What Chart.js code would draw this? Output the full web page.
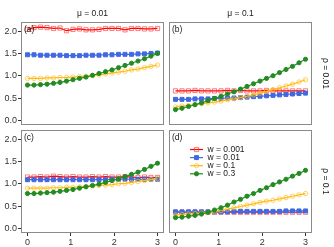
<!DOCTYPE html>
<html><head><meta charset="utf-8">
<script src="https://cdn.jsdelivr.net/npm/chart.js@4"></script>
<style>
html,body{margin:0;padding:0;background:#fff;}
#wrap{position:relative;width:334px;height:247px;overflow:hidden;background:#fff;}
canvas{position:absolute;left:0;top:0;}
</style>
</head><body>
<div id="wrap">
<canvas id="pa" width="334" height="247"></canvas>
<canvas id="pb" width="334" height="247"></canvas>
<canvas id="pc" width="334" height="247"></canvas>
<canvas id="pd" width="334" height="247"></canvas>
</div>
<script>
// ---- data ----
const xValues = [0,0.15,0.3,0.45,0.6,0.75,0.9,1.05,1.2,1.35,1.5,1.65,1.8,1.95,2.1,2.25,2.4,2.55,2.7,2.85,3];
const seriesNames = ['w = 0.001','w = 0.01','w = 0.1','w = 0.3'];
const colTitles = ['μ = 0.01','μ = 0.1'];
const rowTitles = ['ρ = 0.01','ρ = 0.1'];
const panelLabels = ['(a)','(b)','(c)','(d)'];
const yTickValues = [0,0.5,1,1.5,2];
const xTickValues = [0,1,2,3];

// panel (a): mu=0.01, rho=0.01
const aRed    = [2.04,2.08,2.09,2.08,2.06,2.07,2.01,2.04,2.05,2.03,2.03,2.04,2.06,2.06,2.06,2.03,2.06,2.06,2.05,2.05,2.06];
const aBlue   = [1.47,1.47,1.46,1.46,1.46,1.46,1.45,1.45,1.45,1.46,1.46,1.46,1.47,1.47,1.48,1.48,1.48,1.49,1.49,1.50,1.51];
const aYellow = [0.94,0.94,0.94,0.95,0.95,0.96,0.96,0.97,0.98,0.99,1.00,1.02,1.04,1.06,1.08,1.10,1.13,1.15,1.18,1.21,1.24];
const aGreen  = [0.79,0.79,0.80,0.81,0.83,0.85,0.88,0.91,0.94,0.97,1.01,1.05,1.09,1.13,1.18,1.23,1.28,1.33,1.38,1.44,1.50];
// panel (b): mu=0.1, rho=0.01
const bRed    = [0.66,0.66,0.66,0.67,0.66,0.66,0.66,0.66,0.67,0.66,0.67,0.66,0.66,0.66,0.67,0.66,0.66,0.66,0.66,0.66,0.66];
const bBlue   = [0.47,0.47,0.47,0.48,0.48,0.48,0.49,0.49,0.50,0.50,0.51,0.52,0.53,0.54,0.55,0.56,0.57,0.58,0.59,0.60,0.61];
const bYellow = [0.30,0.32,0.33,0.35,0.37,0.39,0.41,0.43,0.46,0.48,0.51,0.54,0.57,0.61,0.65,0.69,0.73,0.77,0.81,0.86,0.91];
const bGreen  = [0.24,0.27,0.31,0.35,0.39,0.44,0.49,0.54,0.59,0.64,0.70,0.76,0.82,0.88,0.94,1.00,1.07,1.14,1.21,1.29,1.37];
// panel (c): mu=0.01, rho=0.1
const cRed    = [1.15,1.15,1.16,1.15,1.17,1.16,1.15,1.16,1.15,1.15,1.16,1.15,1.16,1.15,1.15,1.16,1.15,1.14,1.15,1.14,1.14];
const cBlue   = [1.09,1.09,1.09,1.09,1.09,1.09,1.09,1.09,1.09,1.09,1.09,1.09,1.09,1.10,1.10,1.10,1.10,1.10,1.10,1.10,1.10];
const cYellow = [0.90,0.90,0.90,0.90,0.91,0.91,0.92,0.92,0.93,0.94,0.95,0.96,0.97,0.98,1.00,1.01,1.03,1.05,1.07,1.09,1.11];
const cGreen  = [0.78,0.78,0.79,0.80,0.81,0.83,0.85,0.87,0.90,0.93,0.96,0.99,1.03,1.07,1.11,1.16,1.21,1.26,1.32,1.39,1.46];
// panel (d): mu=0.1, rho=0.1
const dRed    = [0.36,0.36,0.36,0.36,0.36,0.36,0.36,0.36,0.36,0.36,0.36,0.36,0.36,0.36,0.36,0.36,0.36,0.36,0.36,0.36,0.36];
const dBlue   = [0.37,0.37,0.37,0.37,0.37,0.37,0.37,0.37,0.37,0.38,0.38,0.38,0.38,0.38,0.38,0.38,0.38,0.39,0.39,0.39,0.39];
const dYellow = [0.30,0.31,0.32,0.33,0.34,0.35,0.37,0.40,0.43,0.46,0.49,0.52,0.55,0.58,0.61,0.63,0.66,0.69,0.72,0.75,0.78];
const dGreen  = [0.24,0.25,0.27,0.29,0.32,0.36,0.41,0.46,0.52,0.59,0.65,0.72,0.78,0.85,0.91,0.98,1.04,1.10,1.17,1.23,1.30];

// ---- styles ----
const FONT = "'Liberation Sans', Arial, Helvetica, sans-serif";
const styles = [
  {line:'#FF0000', mark:'rgba(255,40,40,0.6)', fill:'rgba(0,0,0,0)', shape:'rect', r:3.0},
  {line:'#4169E1', mark:'#4169E1', fill:'#4169E1', shape:'rect', r:2.8},
  {line:'#FFB90F', mark:'rgba(255,190,30,0.7)', fill:'rgba(0,0,0,0)', shape:'circle', r:2.2},
  {line:'#228B22', mark:'#228B22', fill:'#228B22', shape:'circle', r:2.1}
];

function buildDatasets(list){
  return list.map((vals,k)=>({
    label: seriesNames[k],
    data: xValues.map((x,i)=>({x:x, y:vals[i]})),
    borderColor: styles[k].line,
    borderWidth: 1.2,
    pointStyle: styles[k].shape,
    pointRadius: styles[k].r,
    pointBorderColor: styles[k].mark,
    pointBackgroundColor: styles[k].fill,
    pointBorderWidth: 1,
    tension: 0,
    fill: false,
    order: 3 - k
  }));
}

function drawMarker(ctx, st, x, y){
  ctx.save();
  ctx.lineWidth = 1;
  ctx.strokeStyle = st.mark;
  ctx.fillStyle = st.fill;
  ctx.beginPath();
  if (st.shape === 'rect') { const s = st.r*Math.SQRT1_2; ctx.rect(x-s, y-s, 2*s, 2*s); }
  else { ctx.arc(x, y, st.r, 0, Math.PI*2); }
  ctx.fill(); ctx.stroke();
  ctx.restore();
}

const panelPlugin = {
  id:'panelDeco',
  afterDatasetsDraw(chart, args, opts){
    const a = chart.chartArea, ctx = chart.ctx;
    ctx.save();
    ctx.strokeStyle = '#8a8a8a'; ctx.lineWidth = 1;
    ctx.strokeRect(Math.round(a.left)+0.5, Math.round(a.top)+0.5, Math.round(a.right-a.left)-1, Math.round(a.bottom-a.top)-1);
    ctx.fillStyle = '#1a1a1a';
    ctx.font = '8.5px ' + FONT;
    ctx.textBaseline = 'middle'; ctx.textAlign = 'left';
    ctx.fillText(opts.label, a.left + 3, a.top + 8);
    if (opts.legend) {
      for (let k=0;k<seriesNames.length;k++){
        const y = a.top + 19.5 + k*8.1;
        const st = styles[k];
        ctx.strokeStyle = st.line; ctx.lineWidth = 1.2;
        ctx.beginPath(); ctx.moveTo(a.left+21, y); ctx.lineTo(a.left+34, y); ctx.stroke();
        drawMarker(ctx, st, a.left+27.5, y);
        ctx.fillStyle = '#1a1a1a';
        ctx.fillText(seriesNames[k], a.left + 38.5, y);
      }
    }
    ctx.restore();
  }
};

function makePanel(id, list, cfg){
  const tickFont = {family: FONT, size: 9};
  const scales = {
    x: {
      type:'linear', min:-0.15, max:3.15, display: cfg.showX,
      afterBuildTicks: s => { s.ticks = xTickValues.map(v=>({value:v})); },
      afterFit: s => { s.height = cfg.showX ? 14 : 0; },
      ticks: {font: tickFont, color:'#333333', padding:1, autoSkip:false, maxRotation:0, callback: v => String(v)},
      grid: {display:true, drawOnChartArea:false, drawTicks:true, tickLength:3, color:'#333333', lineWidth:1},
      border: {display:false}
    },
    y: {
      type:'linear', min:-0.105, max:2.205, display: cfg.showY, position:'left',
      afterBuildTicks: s => { s.ticks = yTickValues.map(v=>({value:v})); },
      afterFit: s => { s.width = cfg.showY ? 21 : 0; },
      ticks: {font: tickFont, color:'#333333', padding:1, autoSkip:false, callback: v => Number(v).toFixed(1)},
      grid: {display:true, drawOnChartArea:false, drawTicks:true, tickLength:3, color:'#333333', lineWidth:1},
      border: {display:false}
    }
  };
  if (cfg.right) {
    scales.y2 = {
      type:'linear', min:0, max:1, position:'right', display:true,
      afterFit: s => { s.width = 22; },
      ticks: {display:false}, grid: {display:false}, border: {display:false},
      title: {display:true, text: cfg.right, color:'#1a1a1a', font:{family:FONT, size:8.5}, padding:{top:3.9, bottom:0}}
    };
  }
  return new Chart(document.getElementById(id), {
    type:'line',
    data:{datasets: buildDatasets(list)},
    options:{
      responsive:false, animation:false, devicePixelRatio:1,
      layout:{padding: cfg.pad},
      plugins:{
        legend:{display:false}, tooltip:{enabled:false},
        title:{display: !!cfg.top, text: cfg.top || '', fullSize:false, color:'#1a1a1a',
               font:{family:FONT, size:8.5, weight:'normal'}, padding:{top:8.2, bottom:3.6}},
        panelDeco:{label: cfg.label, legend: !!cfg.legend}
      },
      scales: scales
    },
    plugins:[panelPlugin]
  });
}

makePanel('pa', [aRed,aBlue,aYellow,aGreen], {showX:false, showY:true, top:colTitles[0], label:panelLabels[0], pad:{left:0, top:0, right:170, bottom:122}});
makePanel('pb', [bRed,bBlue,bYellow,bGreen], {showX:false, showY:false, top:colTitles[1], right:rowTitles[0], label:panelLabels[1], pad:{left:169, top:0, right:0, bottom:122}});
makePanel('pc', [cRed,cBlue,cYellow,cGreen], {showX:true, showY:true, label:panelLabels[2], pad:{left:0, top:130, right:170, bottom:0}});
makePanel('pd', [dRed,dBlue,dYellow,dGreen], {showX:true, showY:false, right:rowTitles[1], label:panelLabels[3], legend:true, pad:{left:169, top:130, right:0, bottom:0}});
</script>
</body></html>
